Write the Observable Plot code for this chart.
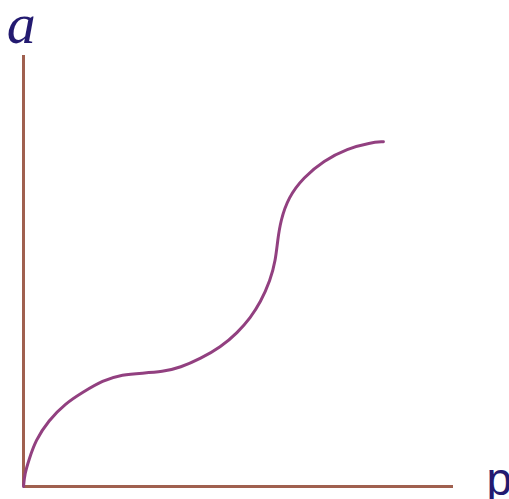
<!DOCTYPE html>
<html>
<head>
<meta charset="utf-8">
<script src="https://cdn.jsdelivr.net/npm/d3@7"></script>
<script src="https://cdn.jsdelivr.net/npm/@observablehq/plot@0.6"></script>
<style>
  html, body { margin: 0; padding: 0; background: #fff; }
</style>
</head>
<body>
<div id="chart"></div>
<script>
// Curve sample points (abstract units, axes 0..10)
const curveX = [0, 0.03, 0.12, 0.28, 0.58, 0.98, 1.37, 1.84, 2.30, 2.77, 3.23, 3.65, 4.12, 4.58, 4.98, 5.28, 5.51, 5.74, 5.86, 5.91, 5.98, 6.16, 6.51, 6.98, 7.53, 8.07, 8.37];
const curveY = [0, 0.30, 0.60, 1.07, 1.53, 1.93, 2.18, 2.46, 2.60, 2.63, 2.66, 2.76, 2.97, 3.23, 3.57, 3.92, 4.27, 4.78, 5.24, 5.71, 6.17, 6.71, 7.17, 7.56, 7.84, 7.98, 8.00];
const yLabel = ["a"];
const xLabel = ["p"];

const curve = curveX.map((x, i) => ({x, y: curveY[i]}));

const axisColor = "#a0604f";
const curveColor = "#924080";
const textColor = "#231a70";

const chart = Plot.plot({
  width: 509,
  height: 499,
  marginLeft: 23,
  marginRight: 56,
  marginTop: 55,
  marginBottom: 13,
  x: {domain: [0, 10], axis: null},
  y: {domain: [0, 10], axis: null},
  style: {background: "#fff", overflow: "visible"},
  marks: [
    Plot.ruleX([0], {stroke: axisColor, strokeWidth: 3}),
    Plot.ruleY([0], {stroke: axisColor, strokeWidth: 3}),
    Plot.line(curve, {x: "x", y: "y", stroke: curveColor, strokeWidth: 3, curve: "basis"}),
    Plot.text(yLabel, {x: -0.05, y: 10.3, text: d => d, lineAnchor: "bottom", textAnchor: "middle",
      fontSize: 58, fontFamily: "Liberation Serif, serif", fontStyle: "italic", fill: textColor}),
    Plot.text(xLabel, {x: 10.77, y: -0.19, text: d => d, lineAnchor: "bottom", textAnchor: "start",
      fontSize: 46, fontFamily: "Liberation Sans, Arial, sans-serif", fill: textColor})
  ]
});
document.getElementById("chart").appendChild(chart);
</script>
</body>
</html>
